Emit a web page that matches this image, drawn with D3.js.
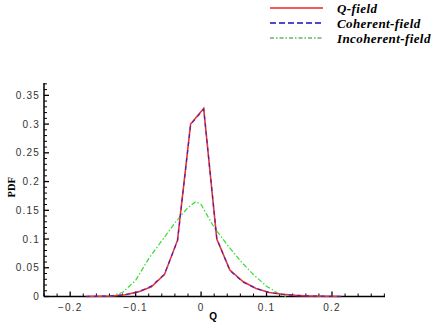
<!DOCTYPE html>
<html>
<head>
<meta charset="utf-8">
<script src="https://cdn.jsdelivr.net/npm/d3@7"></script>
<style>
  body { margin: 0; background: #fff; }
  svg { display: block; }
</style>
</head>
<body>
<svg width="440" height="330"></svg>
<script>
// Q values (x) for each series
const qField = [-0.176, -0.156, -0.136, -0.116, -0.096, -0.076, -0.056, -0.036, -0.016, 0.004, 0.024, 0.044, 0.064, 0.084, 0.104, 0.124, 0.144, 0.164, 0.184, 0.214];
const pdfQ   = [0.0, 0.0005, 0.001, 0.003, 0.008, 0.017, 0.038, 0.098, 0.300, 0.327, 0.100, 0.046, 0.026, 0.014, 0.007, 0.004, 0.002, 0.001, 0.0005, 0.0];
const pdfCoh = [0.0, 0.0005, 0.001, 0.003, 0.008, 0.018, 0.039, 0.097, 0.299, 0.326, 0.101, 0.045, 0.025, 0.014, 0.007, 0.004, 0.002, 0.001, 0.0005, 0.0];

const qIncoh   = [-0.14, -0.12, -0.10, -0.08, -0.06, -0.04, -0.02, -0.008, 0.0, 0.02, 0.04, 0.06, 0.08, 0.10, 0.12, 0.13];
const pdfIncoh = [0.0, 0.007, 0.028, 0.066, 0.097, 0.128, 0.155, 0.165, 0.160, 0.12, 0.09, 0.062, 0.038, 0.018, 0.004, 0.0];

const xTicks = [-0.2, -0.1, 0, 0.1, 0.2];
const yTicks = [0, 0.05, 0.1, 0.15, 0.2, 0.25, 0.3, 0.35];
const legendNames = ["Q-field", "Coherent-field", "Incoherent-field"];

const svg = d3.select("svg");
const margin = { top: 83, right: 55, bottom: 34, left: 44 };
const width = 440, height = 330;

// Skalaer
const x = d3.scaleLinear().domain([-0.24, 0.281]).range([margin.left, width - margin.right]);
const y = d3.scaleLinear().domain([0, 0.3715]).range([height - margin.bottom + 0.5, margin.top]);

// X-akse med indadvendte ticks
const xAxis = svg.append("g").attr("transform", `translate(0,${y(0)})`);
xAxis.append("line").attr("x1", x.range()[0]).attr("x2", x.range()[1]).attr("stroke", "#000").attr("stroke-width", 1.5);
const xMinor = d3.range(-0.24, 0.281, 0.02).filter(v => !xTicks.some(t => Math.abs(t - v) < 1e-6));
xAxis.selectAll(".xminor").data(xMinor).join("line")
  .attr("x1", d => x(d)).attr("x2", d => x(d)).attr("y1", 0).attr("y2", -3)
  .attr("stroke", "#000");
xAxis.selectAll(".xmajor").data(xTicks).join("line")
  .attr("x1", d => x(d)).attr("x2", d => x(d)).attr("y1", 0).attr("y2", -5)
  .attr("stroke", "#000").attr("stroke-width", 1.3);
xAxis.selectAll("text").data(xTicks).join("text")
  .attr("x", d => x(d)).attr("y", 14)
  .attr("text-anchor", "middle")
  .attr("font-family", "Liberation Sans, Arial, sans-serif")
  .attr("font-size", 10).attr("letter-spacing", 1.2).attr("fill", "#333")
  .text(d => d3.format("")(d));

// Y-akse
const yAxis = svg.append("g").attr("transform", `translate(${x.range()[0]},0)`);
yAxis.append("line").attr("y1", y(0)).attr("y2", y.range()[1]).attr("stroke", "#000").attr("stroke-width", 1.5);
const yMinor = d3.range(0, 0.371, 0.01).filter(v => !yTicks.some(t => Math.abs(t - v) < 1e-6));
yAxis.selectAll(".yminor").data(yMinor).join("line")
  .attr("y1", d => y(d)).attr("y2", d => y(d)).attr("x1", 0).attr("x2", 3)
  .attr("stroke", "#000");
yAxis.selectAll(".ymajor").data(yTicks).join("line")
  .attr("y1", d => y(d)).attr("y2", d => y(d)).attr("x1", 0).attr("x2", 5)
  .attr("stroke", "#000").attr("stroke-width", 1.3);
yAxis.selectAll("text").data(yTicks).join("text")
  .attr("x", -4).attr("y", d => y(d) + 3.5)
  .attr("text-anchor", "end")
  .attr("font-family", "Liberation Sans, Arial, sans-serif")
  .attr("font-size", 10).attr("letter-spacing", 1.2).attr("fill", "#333")
  .text(d => d3.format("")(d));

// Aksetitler
svg.append("text")
  .attr("x", x(0) + 12).attr("y", 320)
  .attr("text-anchor", "middle")
  .attr("font-family", "Liberation Sans, Arial, sans-serif")
  .attr("font-weight", "bold").attr("font-size", 10)
  .text("Q");
svg.append("text")
  .attr("transform", `translate(15,${y(0.19)}) rotate(-90)`)
  .attr("text-anchor", "middle")
  .attr("font-family", "Liberation Serif, Times New Roman, serif")
  .attr("font-weight", "bold").attr("font-size", 10.5)
  .text("PDF");

// Kurver
const line = d3.line().x(d => x(d[0])).y(d => y(d[1]));
svg.append("path")
  .datum(d3.zip(qIncoh, pdfIncoh))
  .attr("d", line).attr("fill", "none")
  .attr("stroke", "#33dd33").attr("stroke-width", 1.2)
  .attr("stroke-dasharray", "5,2,1.5,2");
svg.append("path")
  .datum(d3.zip(qField, pdfQ))
  .attr("d", line).attr("fill", "none")
  .attr("stroke", "#ee3333").attr("stroke-width", 1.6);
svg.append("path")
  .datum(d3.zip(qField, pdfCoh))
  .attr("d", line).attr("fill", "none")
  .attr("stroke", "#2222cc").attr("stroke-width", 1.2)
  .attr("stroke-dasharray", "4,4").attr("opacity", 0.85);

// Legende
const legendStyles = [
  { stroke: "#ee2222", dash: null, w: 1.6 },
  { stroke: "#1111bb", dash: "6,3", w: 1.6 },
  { stroke: "#228822", dash: "4,2,1.5,2", w: 1.2 }
];
const legend = svg.append("g");
legendNames.forEach((name, i) => {
  const ly = 8 + i * 15;
  legend.append("line")
    .attr("x1", 270).attr("x2", 323).attr("y1", ly).attr("y2", ly)
    .attr("stroke", legendStyles[i].stroke)
    .attr("stroke-width", legendStyles[i].w)
    .attr("stroke-dasharray", legendStyles[i].dash);
  legend.append("text")
    .attr("x", 337).attr("y", ly + 4.5)
    .attr("font-family", "Liberation Serif, Times New Roman, serif")
    .attr("font-style", "italic").attr("font-weight", "bold")
    .attr("font-size", 13).attr("letter-spacing", 0.4)
    .text(name);
});
</script>
</body>
</html>
